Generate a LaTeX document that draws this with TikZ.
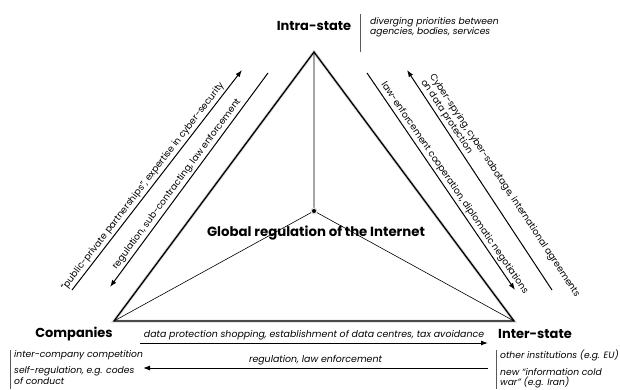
\documentclass[tikz,border=0pt]{standalone}
\usepackage{fontspec}
\setmainfont{Poppins}
\usetikzlibrary{arrows.meta}
\begin{document}
\begin{tikzpicture}
            [x=1pt,y=-1pt,
             actor/.style ={font=\fontsize{13}{13}\selectfont\bfseries,inner sep=0pt},
             note/.style ={font=\fontsize{9.2}{10.5}\selectfont\itshape,align=left,inner sep=0pt},
             rel/.style ={font=\fontsize{9.2}{10.5}\selectfont,inner sep=2pt},
             flat/.style ={font=\fontsize{9.4}{10}\selectfont\itshape,inner sep=2.5pt},
             fwd/.style ={line width=1pt,-{Latex[length=7pt,width=5pt]}},
             back/.style ={line width=1pt,{Latex[length=7pt,width=5pt]}-}]
            \useasboundingbox (0,0) rectangle (620,389);
            \coordinate (top) at (314,52);
            \coordinate (left) at (114,321);
            \coordinate (right) at (514,321);
            \coordinate (mid) at (314,211);
            % triangle with its shadow
            \draw[gray!30,line width=3pt,xshift=1.5pt,yshift=-1.5pt] (top) -- (left) -- (right) -- cycle;
            \draw[line width=1.3pt] (top) -- (left) -- (right) -- cycle;
            \draw[line width=0.6pt] (mid) -- (top) (mid) -- (left) (mid) -- (right);
            \fill[gray!30] (mid) circle (3.5pt);
            \fill (mid) circle (2pt);
            \node[actor] (intra) at (314,26) {Intra-state};
            \node[actor] (comp) at (74,334) {Companies};
            \node[actor] (inter) at (535,334) {Inter-state};
            \node[actor,font=\fontsize{13.3}{13}\selectfont\bfseries] (glob) at (316,233) {Global regulation of the Internet};
            % notes beside the actors
            \draw[gray!70!black,line width=0.7pt] (360,14) -- (360,52);
            \node[note,anchor=north west] (div) at (370,17) {diverging priorities between\\agencies, bodies, services};
            \draw[gray!70!black,line width=0.7pt] (10,350) -- (10,389);
            \node[note,anchor=north west] (inco) at (14,350) {inter-company competition\\[6pt]self-regulation, e.g. codes\\of conduct};
            \draw[gray!70!black,line width=0.7pt] (496,350) -- (496,389);
            \node[note,anchor=north west] (other) at (500,350) {other institutions (e.g. EU)\\[6pt]new ``information cold\\war'' (e.g. Iran)};
            % companies - intra-state
            \coordinate (la1) at (72,290); \coordinate (la2) at (242,70);
            \coordinate (lb1) at (110,287); \coordinate (lb2) at (268,73);
            \draw[fwd] (la1) to node[rel,sloped,above,pos=0.45]{``public-private partnerships'', expertise in cyber-security} (la2);
            \draw[back] (lb1) to node[rel,sloped,above,pos=0.46]{regulation, sub-contracting, law enforcement} (lb2);
            % intra-state - inter-state
            \coordinate (ra1) at (367,73); \coordinate (ra2) at (515,290);
            \coordinate (rb1) at (407,70); \coordinate (rb2) at (552,290);
            \draw[fwd] (ra1) to node[rel,sloped,above,pos=0.55]{law-enforcement cooperation, diplomatic negotiations} (ra2);
            \draw[back] (rb1) to node[rel,sloped,above,pos=0.57,align=left]{Cyber-spying, cyber-sabotage, international agreements\\on data protection} (rb2);
            % companies - inter-state
            \coordinate (ba1) at (140,343); \coordinate (ba2) at (488,343);
            \coordinate (bb1) at (143,368); \coordinate (bb2) at (488,368);
            \draw[fwd] (ba1) to node[flat,above]{data protection shopping, establishment of data centres, tax avoidance} (ba2);
            \draw[back] (bb1) to node[flat,above]{regulation, law enforcement} (bb2);
        \end{tikzpicture}
\end{document}
